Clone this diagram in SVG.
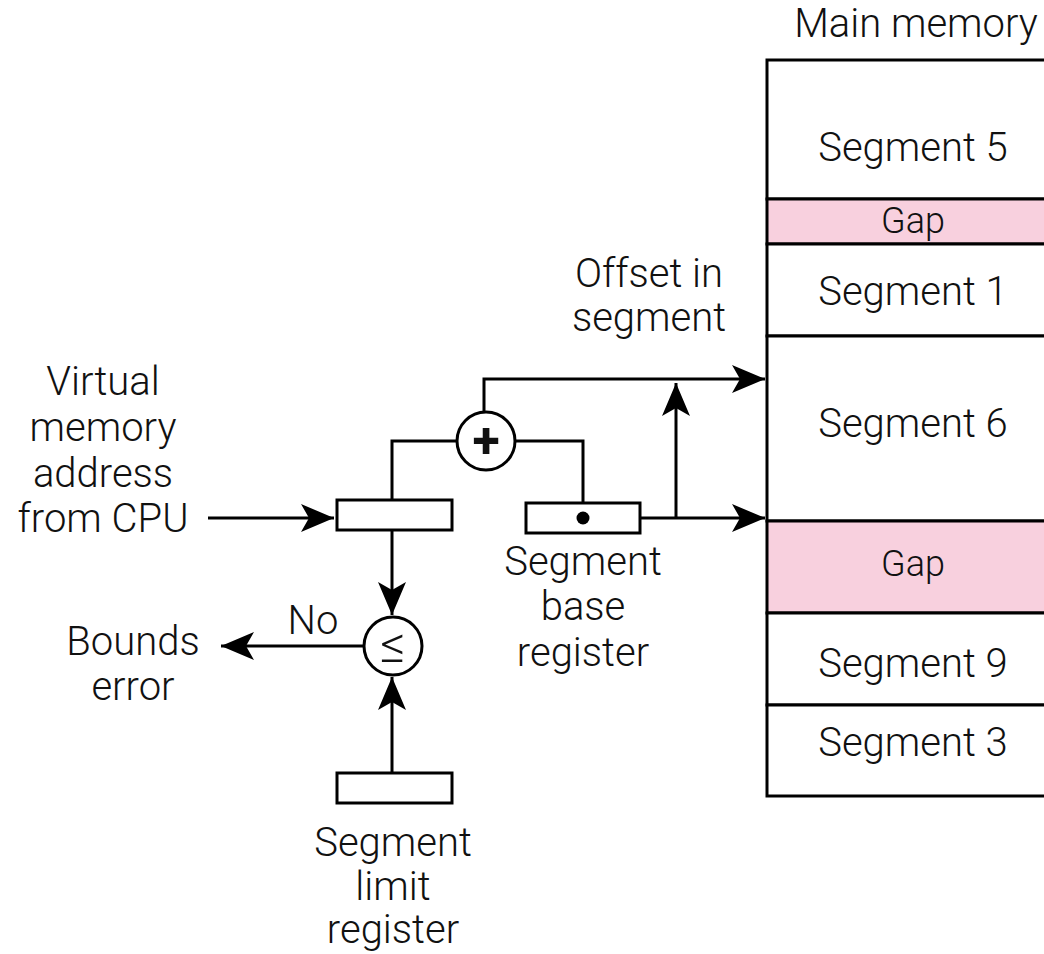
<svg xmlns="http://www.w3.org/2000/svg" width="1044" height="954" viewBox="0 0 1044 954">
<style>
text{font-family:Roboto,"Liberation Sans",sans-serif;font-weight:300;font-size:40px;fill:#111;text-anchor:middle}
.gap{font-size:36px}
.ln{fill:none;stroke:#000;stroke-width:3}
.box{fill:#fff;stroke:#000;stroke-width:3}
.pink{fill:#F8D0DE;stroke:#000;stroke-width:3}
.sym{font-weight:700;font-size:50px}
.le{font-weight:300;font-size:50px}
</style>
<defs>
<marker id="ah" markerUnits="userSpaceOnUse" markerWidth="40" markerHeight="32" viewBox="-36 -16 38 32" refX="0" refY="0" orient="auto">
<path d="M0,0 L-33,-14 L-25,0 L-33,14 Z" fill="#000"/>
</marker>
</defs>
<rect width="1044" height="954" fill="#fff"/>
<g id="memory">
<text x="916" y="37">Main memory</text>
<rect class="box" x="767" y="60" width="290" height="139"/>
<rect class="pink" x="767" y="199" width="290" height="45"/>
<rect class="box" x="767" y="244" width="290" height="92"/>
<rect class="box" x="767" y="336" width="290" height="185"/>
<rect class="pink" x="767" y="521" width="290" height="92"/>
<rect class="box" x="767" y="613" width="290" height="92"/>
<rect class="box" x="767" y="705" width="290" height="91"/>
<text x="913" y="161">Segment 5</text>
<text class="gap" x="913" y="233">Gap</text>
<text x="913" y="305">Segment 1</text>
<text x="913" y="437">Segment 6</text>
<text class="gap" x="913" y="576">Gap</text>
<text x="913" y="677">Segment 9</text>
<text x="913" y="756">Segment 3</text>
</g>
<g id="connectors">
<path class="ln" d="M208,518 H334" marker-end="url(#ah)"/>
<path class="ln" d="M392,500 V441 H457"/>
<path class="ln" d="M515,441 H583 V518"/>
<path class="ln" d="M583,518 H765" marker-end="url(#ah)"/>
<path class="ln" d="M676,518 V383" marker-end="url(#ah)"/>
<path class="ln" d="M484,412 V379 H765" marker-end="url(#ah)"/>
<path class="ln" d="M392,530 V615" marker-end="url(#ah)"/>
<path class="ln" d="M392,773 V677" marker-end="url(#ah)"/>
<path class="ln" d="M364,646 H221" marker-end="url(#ah)"/>
</g>
<g id="cpu-label">
<text x="103" y="395">Virtual</text>
<text x="103" y="441">memory</text>
<text x="103" y="487">address</text>
<text x="103" y="532">from CPU</text>
</g>
<g id="address-register">
<rect class="box" x="337" y="500" width="115" height="30"/>
</g>
<g id="adder">
<circle class="box" cx="486" cy="441" r="29"/>
<text class="sym" x="486" y="458">+</text>
</g>
<g id="base-register">
<rect class="box" x="526" y="503" width="114" height="30"/>
<circle cx="583" cy="518" r="6.5" fill="#000"/>
<text x="583" y="575">Segment</text>
<text x="583" y="620">base</text>
<text x="583" y="666">register</text>
</g>
<g id="offset-label">
<text x="649" y="287">Offset in</text>
<text x="649" y="331">segment</text>
</g>
<g id="comparator">
<circle class="box" cx="393" cy="646" r="29"/>
<text class="le" x="393" y="662">≤</text>
<text x="313" y="634">No</text>
</g>
<g id="bounds-error">
<text x="133" y="655">Bounds</text>
<text x="133" y="700">error</text>
</g>
<g id="limit-register">
<rect class="box" x="337" y="773" width="115" height="30"/>
<text x="393" y="856">Segment</text>
<text x="393" y="900">limit</text>
<text x="393" y="943">register</text>
</g>
</svg>
